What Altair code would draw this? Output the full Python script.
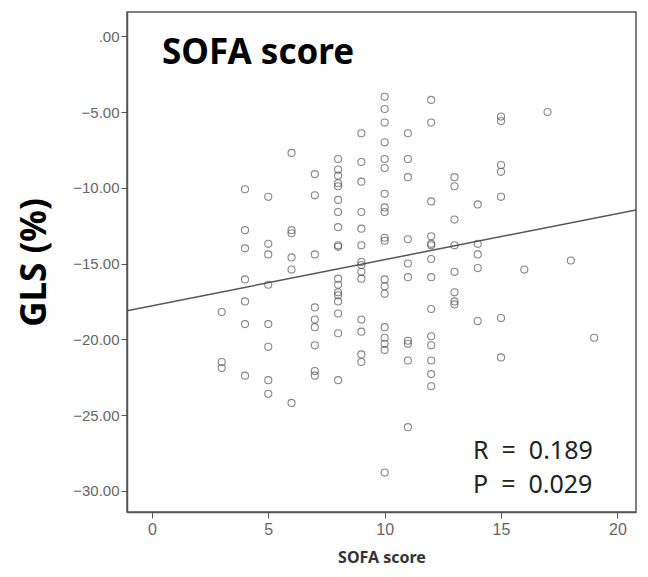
import altair as alt
import pandas as pd

# SOFA score (integer) and GLS (%) readings per column
sofa_levels = [3, 4, 5, 6, 7, 8, 9, 10, 11, 12, 13, 14, 15, 16, 17, 18, 19]
gls_by_sofa = [
    [-18.2, -21.5, -21.9],
    [-10.1, -12.8, -14.0, -16.05, -17.5, -19.0, -22.4],
    [-10.6, -13.7, -14.4, -16.4, -19.0, -20.5, -22.7, -23.6],
    [-7.7, -12.8, -13.0, -14.6, -15.4, -24.2],
    [-9.1, -10.5, -14.4, -17.9, -18.7, -19.2, -20.4, -22.1, -22.4],
    [-8.1, -8.8, -9.2, -9.7, -9.9, -10.8, -11.6, -12.6, -13.8, -13.9, -16.0, -16.4, -16.9, -17.1, -17.5, -18.3, -19.6, -22.7],
    [-6.4, -8.3, -9.6, -11.6, -12.7, -13.8, -14.9, -15.1, -15.55, -16.0, -18.7, -19.5, -21.0, -21.5],
    [-4.0, -4.8, -5.7, -7.0, -8.1, -8.7, -10.4, -11.3, -11.6, -13.3, -13.5, -16.05, -16.5, -17.0, -19.2, -19.9, -20.3, -20.7, -28.8],
    [-6.4, -8.1, -9.3, -13.4, -15.0, -15.9, -20.1, -20.3, -21.4, -25.8],
    [-4.2, -5.7, -10.9, -13.2, -13.7, -13.8, -14.7, -15.9, -18.0, -19.8, -20.4, -21.4, -22.3, -23.1],
    [-9.3, -9.9, -12.1, -13.8, -15.55, -16.9, -17.5, -17.7],
    [-11.1, -13.7, -14.4, -15.3, -18.8],
    [-5.3, -5.6, -8.5, -8.95, -10.6, -18.6, -21.2],
    [-15.4],
    [-5.0],
    [-14.8],
    [-19.9],
]

x_ticks = [0, 5, 10, 15, 20]
y_ticks = [0, -5, -10, -15, -20, -25, -30]
x_domain = [-1.07, 20.8]
y_domain = [-31.4, 1.6]

stat_lines = ["R\u00a0\u00a0=\u00a0\u00a00.189", "P\u00a0\u00a0=\u00a0\u00a00.029"]

rows = []
for s, vals in zip(sofa_levels, gls_by_sofa):
    for v in vals:
        rows.append({"sofa": s, "gls": v})
df = pd.DataFrame(rows)

gray = "#555555"

x_enc = alt.X("sofa:Q", scale=alt.Scale(domain=x_domain, nice=False, zero=False),
              axis=alt.Axis(values=x_ticks, title="SOFA score", grid=False,
                            labelFontSize=16, labelColor="#666666", tickSize=6,
                            tickColor=gray, domainColor=gray, labelPadding=3,
                            titleFont="Noto Sans", titleFontSize=16, titleFontWeight="bold",
                            titleColor="#333333", titlePadding=12))
y_enc = alt.Y("gls:Q", scale=alt.Scale(domain=y_domain, nice=False, zero=False),
              axis=alt.Axis(values=y_ticks, title="GLS (%)", grid=False,
                            labelExpr="datum.value == 0 ? '.00' : format(datum.value, '.2f')",
                            labelFontSize=15, labelColor="#666666", tickSize=6,
                            tickColor=gray, domainColor=gray, labelPadding=2,
                            titleFont="Noto Sans", titleFontSize=35, titleFontWeight="bold",
                            titleColor="#000000", titlePadding=20))

points = alt.Chart(df).mark_point(shape="circle", filled=False, size=50,
                                  stroke=gray, strokeWidth=1.1).encode(x=x_enc, y=y_enc)

reg = alt.Chart(df).transform_regression("sofa", "gls", extent=x_domain).mark_line(
    color=gray, strokeWidth=1.5, clip=True).encode(x="sofa:Q", y="gls:Q")

title_txt = alt.Chart(pd.DataFrame({"t": ["SOFA score"]})).mark_text(
    align="left", baseline="alphabetic", fontSize=35, fontWeight="bold",
    font="Noto Sans", color="#000000").encode(
    text="t:N", x=alt.value(35), y=alt.value(52))

stats = pd.DataFrame({"t": stat_lines, "yy": [447, 481]})
stat_txt = alt.Chart(stats).mark_text(
    align="left", baseline="alphabetic", fontSize=25, font="Noto Sans",
    color="#222222").encode(text="t:N", x=alt.value(346), y=alt.Y("yy:Q", scale=None))

chart = alt.layer(points, reg, title_txt, stat_txt).properties(
    width=509, height=500,
    padding={"left": 127, "top": 12, "right": 12, "bottom": 65},
    autosize=alt.AutoSizeParams(type="none"),
    background="white",
).configure_view(stroke=gray, strokeWidth=1.5).configure_axis(domainWidth=1.5)

chart.save("out.html", embed_options={"renderer": "svg", "actions": False})
